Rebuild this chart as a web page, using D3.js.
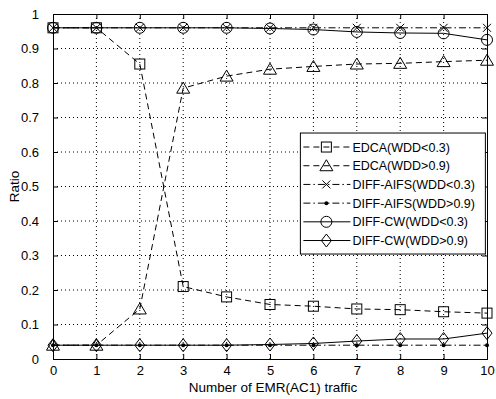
<!DOCTYPE html>
<html>
<head>
<meta charset="utf-8">
<script src="https://cdn.jsdelivr.net/npm/d3@7"></script>
<style>
  body { margin: 0; background: #fff; }
  text { font-family: "Liberation Sans", Arial, sans-serif; fill: #000; }
</style>
</head>
<body>
<div id="chart"></div>
<script>
// data
const traffic = [0, 1, 2, 3, 4, 5, 6, 7, 8, 9, 10];
const edcaLow = [0.96, 0.96, 0.855, 0.21, 0.18, 0.158, 0.153, 0.145, 0.143, 0.137, 0.133];
const edcaHigh = [0.04, 0.04, 0.145, 0.785, 0.82, 0.84, 0.848, 0.855, 0.857, 0.862, 0.866];
const aifsLow = [0.96, 0.96, 0.96, 0.96, 0.96, 0.96, 0.96, 0.96, 0.96, 0.96, 0.96];
const aifsHigh = [0.04, 0.04, 0.04, 0.04, 0.04, 0.04, 0.04, 0.04, 0.04, 0.04, 0.04];
const cwLow = [0.96, 0.96, 0.96, 0.96, 0.96, 0.958, 0.955, 0.948, 0.945, 0.944, 0.925];
const cwHigh = [0.04, 0.04, 0.04, 0.04, 0.04, 0.042, 0.045, 0.052, 0.058, 0.058, 0.075];
const yTicks = [0, 0.1, 0.2, 0.3, 0.4, 0.5, 0.6, 0.7, 0.8, 0.9, 1];

const series = [
  { name: 'EDCA(WDD<0.3)', values: edcaLow, dash: '6,4', marker: 'square' },
  { name: 'EDCA(WDD>0.9)', values: edcaHigh, dash: '6,4', marker: 'triangle' },
  { name: 'DIFF-AIFS(WDD<0.3)', values: aifsLow, dash: '7,3,1.5,3', marker: 'cross' },
  { name: 'DIFF-AIFS(WDD>0.9)', values: aifsHigh, dash: '7,3,1.5,3', marker: 'dot' },
  { name: 'DIFF-CW(WDD<0.3)', values: cwLow, dash: null, marker: 'circle' },
  { name: 'DIFF-CW(WDD>0.9)', values: cwHigh, dash: null, marker: 'diamond' }
];

const W = 496, H = 399;
const margin = { top: 14, right: 9, bottom: 40, left: 53 };
const width = W - margin.left - margin.right;
const height = H - margin.top - margin.bottom;

const svg = d3.select('#chart').append('svg')
    .attr('width', W)
    .attr('height', H);

const g = svg.append('g')
    .attr('transform', `translate(${margin.left},${margin.top})`);

const x = d3.scaleLinear().domain([0, 10]).range([0, width]);
const y = d3.scaleLinear().domain([0, 1]).range([height, 0]);

// dotted grid
g.append('g')
    .selectAll('line')
    .data(traffic.slice(1, -1))
    .join('line')
    .attr('x1', d => x(d)).attr('x2', d => x(d))
    .attr('y1', 0).attr('y2', height)
    .attr('stroke', '#000').attr('stroke-width', 1)
    .attr('stroke-dasharray', '1,3');

g.append('g')
    .selectAll('line')
    .data(yTicks.slice(1, -1))
    .join('line')
    .attr('x1', 0).attr('x2', width)
    .attr('y1', d => y(d)).attr('y2', d => y(d))
    .attr('stroke', '#000').attr('stroke-width', 1)
    .attr('stroke-dasharray', '1,3');

// axes, ticks pointing inward like matlab
const fmt = d => d === 0 ? '0' : d === 1 ? '1' : d3.format('.1f')(d);

g.append('g')
    .attr('transform', `translate(0,${height})`)
    .call(d3.axisBottom(x).tickValues(traffic).tickSize(-5).tickPadding(7).tickFormat(d3.format('d')));
g.append('g')
    .call(d3.axisLeft(y).tickValues(yTicks).tickSize(-5).tickPadding(14).tickFormat(fmt));
g.append('g')
    .call(d3.axisTop(x).tickValues(traffic).tickSize(-5).tickFormat(''));
g.append('g')
    .attr('transform', `translate(${width},0)`)
    .call(d3.axisRight(y).tickValues(yTicks).tickSize(-5).tickFormat(''));

g.selectAll('.domain').attr('stroke', '#000');
g.selectAll('.tick line').attr('stroke', '#000');
g.selectAll('.tick text').attr('font-size', 13)
    .attr('font-family', '"Liberation Sans", Arial, sans-serif');

// lines
const line = d3.line()
    .x((d, i) => x(traffic[i]))
    .y(d => y(d));

const marker = (sel, type) => {
  if (type === 'square') {
    sel.append('rect').attr('x', -5).attr('y', -5).attr('width', 10).attr('height', 10)
        .attr('fill', 'none').attr('stroke', '#000');
  } else if (type === 'triangle') {
    sel.append('path').attr('d', 'M0,-6L6.5,5L-6.5,5Z').attr('fill', 'none').attr('stroke', '#000');
  } else if (type === 'cross') {
    sel.append('path').attr('d', 'M-4,-4L4,4M-4,4L4,-4').attr('stroke', '#000');
  } else if (type === 'dot') {
    sel.append('circle').attr('r', 2).attr('fill', '#000');
  } else if (type === 'circle') {
    sel.append('circle').attr('r', 5.5).attr('fill', 'none').attr('stroke', '#000');
  } else if (type === 'diamond') {
    sel.append('path').attr('d', 'M0,-6.5L5,0L0,6.5L-5,0Z').attr('fill', 'none').attr('stroke', '#000');
  }
};

series.forEach(s => {
  g.append('path')
      .datum(s.values)
      .attr('d', line)
      .attr('fill', 'none')
      .attr('stroke', '#000')
      .attr('stroke-width', 1)
      .attr('stroke-dasharray', s.dash);

  g.append('g')
      .selectAll('g')
      .data(s.values)
      .join('g')
      .attr('transform', (d, i) => `translate(${x(traffic[i])},${y(d)})`)
      .each(function () { marker(d3.select(this), s.marker); });
});

// legend
const legend = g.append('g')
    .attr('transform', `translate(${x(5.7)},${y(0.655)})`);

legend.append('rect')
    .attr('width', 185).attr('height', 121)
    .attr('fill', '#fff').attr('stroke', '#000');

series.forEach((s, i) => {
  const row = legend.append('g').attr('transform', `translate(0,${14 + i * 18.7})`);
  row.append('line')
      .attr('x1', 3).attr('x2', 50)
      .attr('stroke', '#000')
      .attr('stroke-dasharray', s.dash);
  const m = row.append('g').attr('transform', 'translate(26,0)');
  marker(m, s.marker);
  row.append('text')
      .attr('x', 52).attr('y', 4.5)
      .attr('font-size', 12.5)
      .text(s.name);
});

// axis titles
svg.append('text')
    .attr('x', margin.left + width / 2 + 3)
    .attr('y', H - 7)
    .attr('text-anchor', 'middle')
    .attr('font-size', 13.5)
    .text('Number of EMR(AC1) traffic');

svg.append('text')
    .attr('transform', `translate(19,${margin.top + height / 2}) rotate(-90)`)
    .attr('text-anchor', 'middle')
    .attr('font-size', 13.5)
    .text('Ratio');
</script>
</body>
</html>
